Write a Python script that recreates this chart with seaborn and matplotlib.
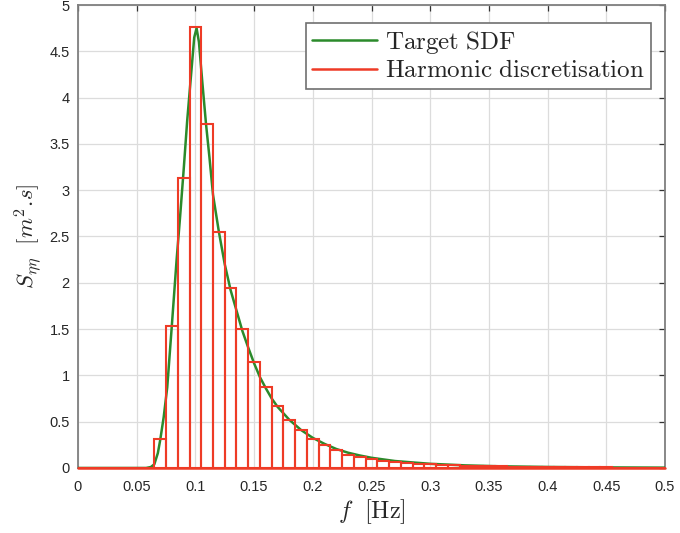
import numpy as np
import pandas as pd
import matplotlib
matplotlib.use("Agg")
import matplotlib.pyplot as plt
import seaborn as sns
from matplotlib.lines import Line2D

# Target SDF
sdf_f = [0.0, 0.05, 0.058, 0.062, 0.065, 0.068, 0.070, 0.073, 0.076, 0.080, 0.084,
         0.087, 0.090, 0.093, 0.096, 0.099, 0.101, 0.103, 0.106, 0.109, 0.112,
         0.115, 0.120, 0.125, 0.130, 0.135, 0.140, 0.145, 0.150, 0.155, 0.160,
         0.165, 0.170, 0.180, 0.190, 0.200, 0.210, 0.220, 0.230, 0.240, 0.250,
         0.270, 0.300, 0.330, 0.360, 0.400, 0.450, 0.500]
sdf_s = [0.0, 0.0, 0.0, 0.01, 0.04, 0.16, 0.30, 0.55, 0.87, 1.55, 2.25,
         2.72, 3.22, 3.75, 4.20, 4.65, 4.75, 4.60, 4.15, 3.72, 3.35,
         2.95, 2.55, 2.20, 1.92, 1.70, 1.48, 1.30, 1.13, 0.98, 0.86,
         0.75, 0.66, 0.52, 0.41, 0.325, 0.26, 0.205, 0.165, 0.135, 0.11,
         0.075, 0.045, 0.028, 0.018, 0.011, 0.006, 0.0035]

# Harmonic discretisation (bar centres and heights)
harm_f = [round(0.01 * k, 2) for k in range(0, 51)]
harm_s = [0, 0, 0, 0, 0, 0, 0, 0.31, 1.53, 3.13, 4.76,
          3.72, 2.55, 1.94, 1.50, 1.14, 0.87, 0.67, 0.52, 0.405, 0.315,
          0.245, 0.19, 0.145, 0.115, 0.094, 0.076, 0.065, 0.055, 0.047, 0.040,
          0.034, 0.029, 0.025, 0.021, 0.018, 0.016, 0.014, 0.012, 0.011, 0.010,
          0.009, 0.008, 0.007, 0.006, 0.0055, 0.005, 0.0045, 0.004, 0.0035, 0.003]
bin_width = 0.01

x_ticks = [0, 0.05, 0.1, 0.15, 0.2, 0.25, 0.3, 0.35, 0.4, 0.45, 0.5]
x_ticklabels = ["0", "0.05", "0.1", "0.15", "0.2", "0.25", "0.3", "0.35", "0.4", "0.45", "0.5"]
y_ticks = [0, 0.5, 1, 1.5, 2, 2.5, 3, 3.5, 4, 4.5, 5]
y_ticklabels = ["0", "0.5", "1", "1.5", "2", "2.5", "3", "3.5", "4", "4.5", "5"]

sns.set_theme(style="white")
plt.rcParams['font.family'] = ['Liberation Sans', 'DejaVu Sans']
plt.rcParams['mathtext.fontset'] = 'cm'

GREEN = '#2b8a2b'
RED = '#ee3b26'
AXC = '#7f7f7f'

fig = plt.figure(figsize=(6.8, 5.33), dpi=100)
ax = fig.add_axes([0.1147, 0.122, 0.8633, 0.8686])

ax.bar(harm_f, harm_s, width=bin_width, fill=False, edgecolor=RED,
       linewidth=1.5, zorder=4)
ax.axhline(0, color=RED, linewidth=1.8, zorder=5, clip_on=False)
df = pd.DataFrame({"f": sdf_f, "S": sdf_s})
sns.lineplot(data=df, x="f", y="S", ax=ax, color=GREEN, linewidth=1.8,
             zorder=3, estimator=None, sort=False)

ax.set_xlim(0, 0.5)
ax.set_ylim(0, 5)
ax.set_xticks(x_ticks)
ax.set_xticklabels(x_ticklabels)
ax.set_yticks(y_ticks)
ax.set_yticklabels(y_ticklabels)
ax.grid(True, color='#dcdcdc', linewidth=0.9)
ax.set_axisbelow(True)
ax.tick_params(direction='in', top=True, right=True, length=4, width=0.9,
               color='#333333', labelsize=10.5, labelcolor='#262626')
ax.tick_params(axis='x', pad=9)
ax.tick_params(axis='y', pad=6)
for s in ax.spines.values():
    s.set_color(AXC)
    s.set_linewidth(1.3)
    s.set_visible(True)

ax.set_xlabel(r"$f\ \ [\mathrm{Hz}]$", fontsize=17.5, color='#262626', labelpad=2)
ax.set_ylabel(r"$S_{\eta\eta}\ \ [m^2.\!s]$", fontsize=16.5, color='#262626', labelpad=4)

handles = [Line2D([], [], color=GREEN, linewidth=1.8),
           Line2D([], [], color=RED, linewidth=1.8)]
leg = ax.legend(handles, [r"$\mathrm{Target\ SDF}$", r"$\mathrm{Harmonic\ discretisation}$"],
                loc='upper right', fontsize=18, frameon=True, fancybox=False,
                framealpha=1, edgecolor='#707070', borderpad=0.25,
                handlelength=2.6, handletextpad=0.3, labelspacing=0.1,
                borderaxespad=0,
                bbox_to_anchor=(0.976, 0.962))
leg.get_frame().set_linewidth(1.2)

fig.savefig("out.png", dpi=100, facecolor='white')
